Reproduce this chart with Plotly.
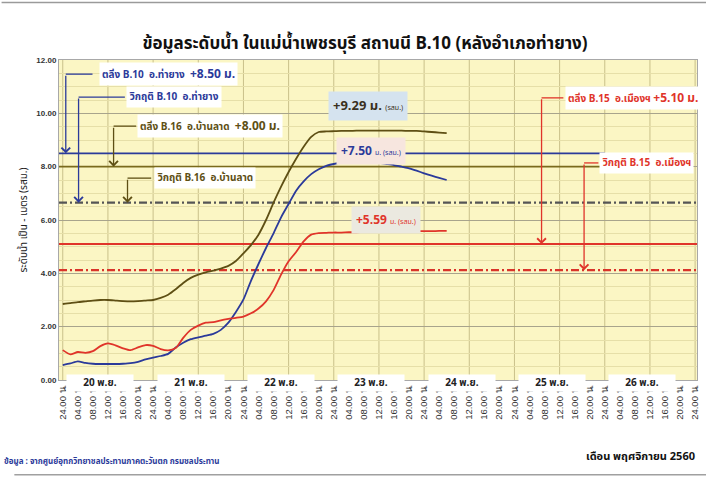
import plotly.graph_objects as go

# time in hours from 20 Nov 2560 00:00 (24.00 น.)
hours = [0, 2, 4, 6, 8, 10, 12, 14, 16, 18, 20, 22, 24, 26, 28, 30, 32, 34, 36, 38,
         40, 42, 44, 46, 48, 50, 52, 54, 56, 58, 60, 62, 64, 66, 68, 70, 72, 74, 76, 78,
         80, 82, 84, 86, 88, 90, 92, 94, 96, 98, 100, 102]

level_b16 = [2.85, 2.88, 2.92, 2.95, 2.98, 3.00, 3.00, 2.98, 2.96, 2.95, 2.96, 2.98, 3.00,
             3.08, 3.20, 3.40, 3.64, 3.83, 3.95, 4.04, 4.10, 4.18, 4.28, 4.46, 4.75, 5.06,
             5.45, 6.00, 6.65, 7.25, 7.80, 8.30, 8.75, 9.12, 9.30, 9.32, 9.33, 9.34, 9.34,
             9.35, 9.35, 9.35, 9.35, 9.35, 9.35, 9.35, 9.34, 9.34, 9.32, 9.30, 9.28, 9.26]

level_b10 = [0.56, 0.62, 0.70, 0.64, 0.61, 0.60, 0.60, 0.60, 0.61, 0.63, 0.68, 0.77, 0.84,
             0.90, 0.98, 1.22, 1.40, 1.53, 1.60, 1.66, 1.73, 1.88, 2.15, 2.55, 3.02, 3.72,
             4.35, 4.95, 5.50, 6.10, 6.60, 7.10, 7.45, 7.72, 7.90, 8.03, 8.10, 8.15, 8.17,
             8.17, 8.17, 8.16, 8.14, 8.10, 8.06, 8.00, 7.94, 7.85, 7.75, 7.66, 7.58, 7.50]

level_b15 = [1.12, 0.96, 1.05, 1.02, 1.08, 1.27, 1.37, 1.30, 1.19, 1.12, 1.22, 1.31, 1.28,
             1.16, 1.11, 1.20, 1.58, 1.88, 2.04, 2.15, 2.17, 2.24, 2.29, 2.33, 2.38, 2.50,
             2.68, 2.95, 3.37, 3.95, 4.45, 4.80, 5.20, 5.45, 5.51, 5.52, 5.53, 5.53, 5.54,
             5.54, 5.55, 5.55, 5.56, 5.56, 5.57, 5.57, 5.57, 5.58, 5.58, 5.58, 5.59, 5.59]

# bank / critical levels
ref_names = ["ตลิ่ง B.10", "ตลิ่ง B.16", "วิกฤติ B.10/B.16", "ตลิ่ง B.15", "วิกฤติ B.15"]
ref_levels = [8.50, 8.00, 6.65, 5.10, 4.12]
ref_end = [144, 144, 168.5, 168.5, 168.5]

tick_hours = list(range(0, 169, 4))
tick_text = ["24.00 น.", "04.00 น.", "08.00 น.", "12.00 น.", "16.00 น.", "20.00 น."] * 7 + ["24.00 น."]
day_labels = ["20 พ.ย.", "21 พ.ย.", "22 พ.ย.", "23 พ.ย.", "24 พ.ย.", "25 พ.ย.", "26 พ.ย."]

BLUE = "#2b3a9a"
OLIVE = "#5e4f14"
RED = "#e0342a"
THAI = "Noto Sans Thai, Loma, Garuda, Tahoma, Noto Sans, sans-serif"

fig = go.Figure()

ref_styles = [
    (BLUE, "solid", 1.6), ("#7a6a1c", "solid", 1.8), ("#555555", "8px,3px,2px,3px", 2.4),
    (RED, "solid", 1.8), ("#d9342a", "8px,3px,2px,3px", 2.2),
]
for name, lv, end, (c, d, w) in zip(ref_names, ref_levels, ref_end, ref_styles):
    fig.add_trace(go.Scatter(x=[-1, end], y=[lv, lv], mode="lines", name=name,
                             line=dict(color=c, dash=d, width=w), hoverinfo="skip"))

for y, name, color in [(level_b16, "B.16", OLIVE), (level_b10, "B.10", BLUE), (level_b15, "B.15", RED)]:
    fig.add_trace(go.Scatter(x=hours, y=y, mode="lines", name=name,
                             line=dict(color=color, width=1.8, shape="spline", smoothing=0.6)))

# label boxes with elbow arrows
big = "<span style='font-size:12px'><b>{}</b></span>"
labels = [
    ("ตลิ่ง B.10  อ.ท่ายาง  " + big.format("+8.50 ม."), BLUE, 9.5, 11.47, 0.8, 7.9, 8.50),
    ("วิกฤติ B.10  อ.ท่ายาง", BLUE, 16.8, 10.61, 4.2, 16.5, 6.65),
    ("ตลิ่ง B.16  อ.บ้านลาด  " + big.format("+8.00 ม."), OLIVE, 19.8, 9.52, 13.5, 19.5, 8.00),
    ("วิกฤติ B.16  อ.บ้านลาด", OLIVE, 24.2, 7.57, 17.2, 23.5, 6.65),
    ("ตลิ่ง B.15  อ.เมืองฯ " + big.format("+5.10 ม."), RED, 133.3, 10.58, 127.2, 133.0, 5.10),
    ("วิกฤติ B.15  อ.เมืองฯ", RED, 142.5, 8.14, 138.5, 142.3, 4.12),
]
for text, color, tx, ty, ax0, ax1, target in labels:
    fig.add_annotation(x=tx, y=ty, text=text, showarrow=False, xanchor="left",
                       font=dict(size=10, color=color, family=THAI, weight="bold"),
                       bgcolor="white", borderpad=2)
    fig.add_shape(type="line", x0=ax0, x1=ax1, y0=ty, y1=ty, line=dict(color=color, width=1.3))
    fig.add_annotation(x=ax0, y=target, ax=ax0, ay=ty, axref="x", ayref="y", text="",
                       showarrow=True, arrowhead=4, arrowsize=1.3, arrowwidth=1.3,
                       arrowcolor=color)

# latest value boxes
peaks = [
    ("<b>+9.29 ม.</b> <span style='font-size:7px'>(รสม.)</span>", "#3a3020", "#d5e3ef", 81, 10.28, 13),
    ("<b>+7.50</b> <span style='font-size:7px'>ม. (รสม.)</span>", BLUE, "#f7e6df", 82, 8.58, 12),
    ("<b>+5.59</b> <span style='font-size:7px'>ม. (รสม.)</span>", RED, "#ebe9e0", 86, 5.99, 12),
]
for text, color, bg, x, y, size in peaks:
    fig.add_annotation(x=x, y=y, text=text, showarrow=False,
                       font=dict(size=size, color=color, family=THAI),
                       bgcolor=bg, borderpad=4)

for i, d in enumerate(day_labels):
    fig.add_annotation(x=10 + 24 * i, y=0, yref="y", text=f"<b>{d}</b>", showarrow=False,
                       yanchor="middle", yshift=-3, width=64, height=14,
                       font=dict(size=10, color="#222222", family=THAI), bgcolor="white")

fig.add_annotation(x=-0.089, y=-0.28, xref="paper", yref="paper", xanchor="left",
                   text="ข้อมูล : จากศูนย์อุทกวิทยาชลประทานภาคตะวันตก กรมชลประทาน",
                   showarrow=False, font=dict(size=8, color="#2b3a9a", family=THAI, weight="bold"))
fig.add_annotation(x=1.0, y=-0.272, xref="paper", yref="paper", xanchor="right",
                   text="เดือน พฤศจิกายน 2560", showarrow=False,
                   font=dict(size=11, color="#111111", family=THAI, weight="bold"))
fig.add_shape(type="line", xref="paper", yref="paper", x0=-0.07, x1=1.02, y0=-0.296, y1=-0.296,
              line=dict(color="#a0a0a0", width=1.5))
fig.add_shape(type="line", xref="paper", yref="paper", x0=-0.09, x1=1.02, y0=1.18, y1=1.18,
              line=dict(color="#9a9a9a", width=1.5))

fig.update_layout(
    width=706, height=477,
    margin=dict(l=59, r=9, t=60, b=97),
    paper_bgcolor="white", plot_bgcolor="#fbf6c4",
    showlegend=False,
    title=dict(text="<b>ข้อมูลระดับน้ำ ในแม่น้ำเพชรบุรี สถานนี B.10 (หลังอำเภอท่ายาง)</b>",
               x=0.517, xanchor="center", y=0.91, yanchor="middle",
               font=dict(size=17, color="#111111", family=THAI)),
    font=dict(family=THAI),
)
fig.update_xaxes(range=[-1, 168.5], tickvals=tick_hours, ticktext=tick_text, tickangle=-90,
                 tickfont=dict(size=9.5, color="#333333", family="Liberation Sans"),
                 showgrid=False, automargin=False,
                 showline=True, linecolor="#a8a8a8", mirror=True,
                 ticks="", zeroline=False)
fig.update_yaxes(range=[0, 12], dtick=2, tickformat=".2f", automargin=False,
                 tickfont=dict(size=8, color="#333333", family="Liberation Sans", weight="bold"),
                 showgrid=True, gridcolor="#a8a48c", gridwidth=1.2,
                 minor=dict(dtick=0.5, showgrid=True, gridcolor="#e6dfa8", gridwidth=1),
                 showline=True, linecolor="#a8a8a8", mirror=True, zeroline=False,
                 title=dict(text="ระดับน้ำ เป็น - เมตร (รสม.)", standoff=6,
                            font=dict(size=10, color="#222222", family=THAI)))
# vertical grid every 12 hours
for h in range(0, 169, 12):
    fig.add_vline(x=h, line=dict(color="#c9c08a", width=1), layer="below")

fig.write_html("out.html", config={"displayModeBar": False},
               post_script="document.body.style.margin='0';document.body.style.overflow='hidden';")
